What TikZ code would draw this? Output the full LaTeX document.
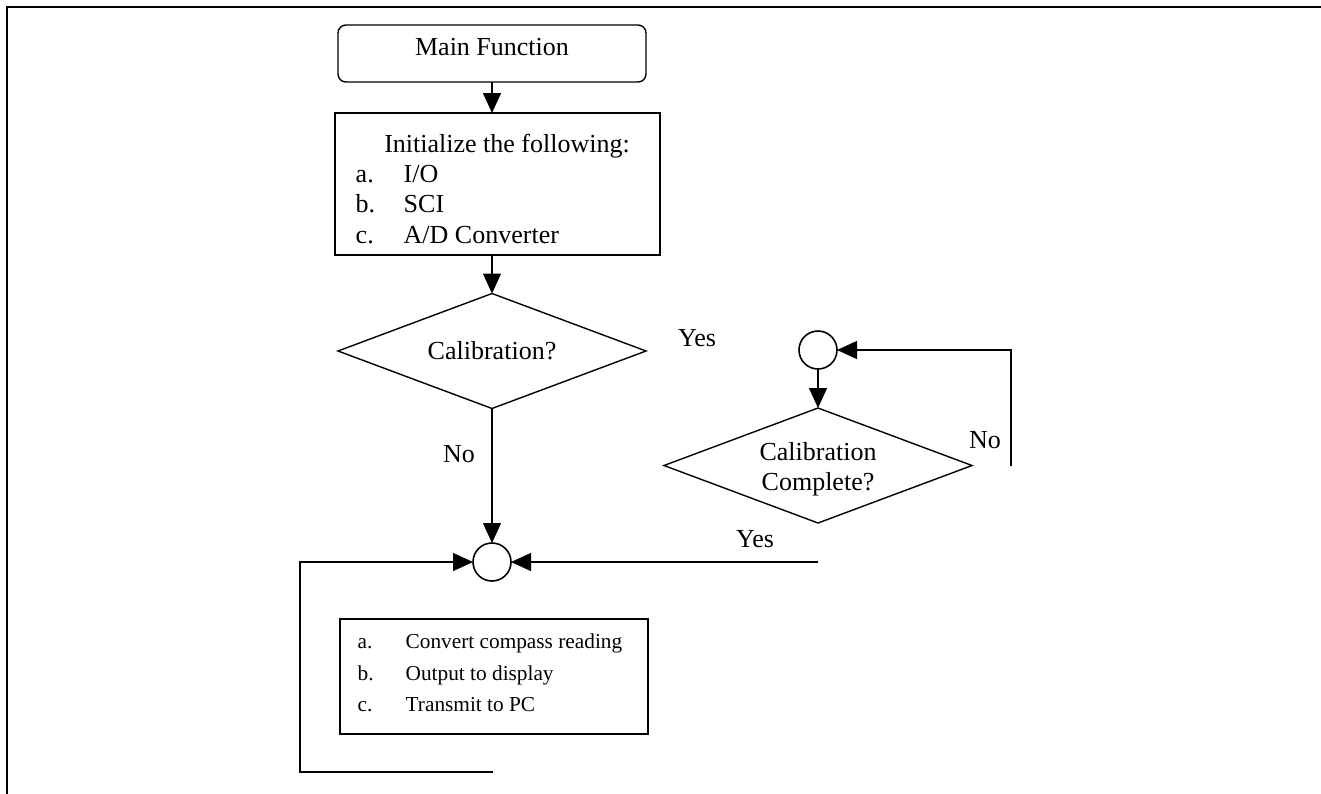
\documentclass[tikz,border=0pt]{standalone}
\usepackage{fontspec}
\setmainfont{Liberation Serif}
\usetikzlibrary{shapes.geometric,arrows.meta}
\begin{document}
\begin{tikzpicture}[x=1pt,y=-1pt,
  line width=1.4pt,
  font=\fontsize{26}{30}\selectfont,
  box/.style={draw, rectangle, inner sep=0pt, outer sep=0pt},
  dec/.style={draw, diamond, inner sep=0pt, outer sep=0pt, minimum width=308pt, minimum height=115pt},
  conn/.style={draw, circle, inner sep=0pt, outer sep=0pt, minimum size=38pt, line width=1.6pt},
  lbl/.style={inner sep=0pt, anchor=base},
  itm/.style={inner sep=0pt, anchor=base west},
  small/.style={font=\fontsize{21.3}{25}\selectfont},
  arr/.style={-{Triangle[length=20pt,width=18pt]}}
]
\useasboundingbox (0,0) rectangle (1321,793);
\fill[white] (0,0) rectangle (1321,793);
\draw[line width=2.3pt] (7,794) -- (7,7) -- (1322,7);

% Main function
\node[box, rounded corners=8pt, minimum width=308pt, minimum height=57pt] (main) at (492,53.5) {};
\node[lbl] (mainT) at (492,55) {Main Function};

% Init box
\node[box, minimum width=325pt, minimum height=142pt] (init) at (497.5,184) {};
\node[lbl] (initT) at (507,152) {Initialize the following:};
\node[itm] (initA) at (355,182) {a.};
\node[itm] (initAt) at (403,182) {I/O};
\node[itm] (initB) at (355,212.5) {b.};
\node[itm] (initBt) at (403,212.5) {SCI};
\node[itm] (initC) at (355,243) {c.};
\node[itm] (initCt) at (403,243) {A/D Converter};

% Decision 1
\node[dec] (d1) at (492,351) {};
\node[lbl] (d1T) at (492,359) {Calibration?};

% Connector circles
\node[conn] (c1) at (492,562) {};
\node[conn] (c2) at (818,350) {};

% Decision 2
\node[dec] (d2) at (818,465.5) {};
\node[lbl] (d2T1) at (818,460) {Calibration};
\node[lbl] (d2T2) at (818,490) {Complete?};

% Process box
\node[box, minimum width=308pt, minimum height=115pt] (proc) at (494,676.5) {};
\node[itm, small] (pA) at (357,648.3) {a.};
\node[itm, small] (pAt) at (405,648.3) {Convert compass reading};
\node[itm, small] (pB) at (357,680) {b.};
\node[itm, small] (pBt) at (405,680) {Output to display};
\node[itm, small] (pC) at (357,711.7) {c.};
\node[itm, small] (pCt) at (405,711.7) {Transmit to PC};

% Labels
\node[lbl] (yes1) at (697,346) {Yes};
\node[lbl] (no1) at (459,462) {No};
\node[lbl] (yes2) at (755,547) {Yes};
\node[lbl] (no2) at (985,448) {No};

% Connectors
\draw[arr] (main.south) -- (main.south |- init.north);
\draw[arr] (d1.north |- init.south) -- (d1.north);
\draw[arr] (d1.south) -- (c1.north);
\draw[arr] (c2.south) -- (d2.north);

\coordinate (loopEnd) at (493,772);
\coordinate (loopL) at (300,772);
\draw[arr] (loopEnd) -- (loopL) |- (c1.west);

\coordinate (yesEnd) at (818,562);
\draw[arr] (yesEnd) -- (c1.east);

\coordinate (noEnd) at (1011,466);
\draw[arr] (noEnd) |- (c2.east);
\end{tikzpicture}
\end{document}
